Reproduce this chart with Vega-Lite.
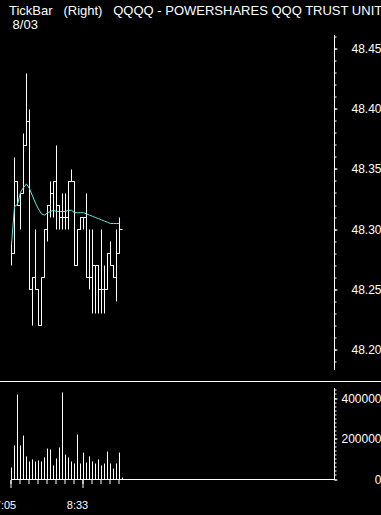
{
  "$schema": "https://vega.github.io/schema/vega-lite/v6.json",
  "background": "black",
  "autosize": "none",
  "padding": {"left": 0, "top": 35, "right": 381, "bottom": 480},
  "bounds": "flush",
  "spacing": 18,
  "data": {"name": "bars"},
  "datasets": {
    "bars": [
      {"k": 0, "high": 48.29, "low": 48.27, "close": 48.28, "ma": 48.2875, "volume": 59000},
      {"k": 1, "high": 48.36, "low": 48.28, "close": 48.34, "ma": 48.319, "volume": 168000},
      {"k": 2, "high": 48.34, "low": 48.32, "close": 48.32, "ma": 48.321, "volume": 420000},
      {"k": 3, "high": 48.33, "low": 48.30, "close": 48.33, "ma": 48.331, "volume": 168000},
      {"k": 4, "high": 48.38, "low": 48.33, "close": 48.37, "ma": 48.335, "volume": 217000},
      {"k": 5, "high": 48.43, "low": 48.37, "close": 48.39, "ma": 48.338, "volume": 114000},
      {"k": 6, "high": 48.40, "low": 48.25, "close": 48.25, "ma": 48.334, "volume": 89000},
      {"k": 7, "high": 48.26, "low": 48.22, "close": 48.26, "ma": 48.328, "volume": 99000},
      {"k": 8, "high": 48.30, "low": 48.25, "close": 48.25, "ma": 48.322, "volume": 89000},
      {"k": 9, "high": 48.25, "low": 48.22, "close": 48.22, "ma": 48.317, "volume": 94000},
      {"k": 10, "high": 48.26, "low": 48.22, "close": 48.26, "ma": 48.313, "volume": 89000},
      {"k": 11, "high": 48.30, "low": 48.26, "close": 48.30, "ma": 48.312, "volume": 109000},
      {"k": 12, "high": 48.32, "low": 48.29, "close": 48.32, "ma": 48.314, "volume": 153000},
      {"k": 13, "high": 48.34, "low": 48.31, "close": 48.33, "ma": 48.315, "volume": 148000},
      {"k": 14, "high": 48.34, "low": 48.31, "close": 48.34, "ma": 48.316, "volume": 69000},
      {"k": 15, "high": 48.37, "low": 48.30, "close": 48.32, "ma": 48.315, "volume": 104000},
      {"k": 16, "high": 48.32, "low": 48.30, "close": 48.31, "ma": 48.315, "volume": 158000},
      {"k": 17, "high": 48.33, "low": 48.30, "close": 48.31, "ma": 48.315, "volume": 430000},
      {"k": 18, "high": 48.33, "low": 48.30, "close": 48.31, "ma": 48.315, "volume": 123000},
      {"k": 19, "high": 48.34, "low": 48.30, "close": 48.34, "ma": 48.316, "volume": 109000},
      {"k": 20, "high": 48.35, "low": 48.34, "close": 48.34, "ma": 48.316, "volume": 89000},
      {"k": 21, "high": 48.34, "low": 48.27, "close": 48.27, "ma": 48.314, "volume": 79000},
      {"k": 22, "high": 48.30, "low": 48.27, "close": 48.30, "ma": 48.314, "volume": 222000},
      {"k": 23, "high": 48.31, "low": 48.30, "close": 48.31, "ma": 48.314, "volume": 79000},
      {"k": 24, "high": 48.31, "low": 48.30, "close": 48.31, "ma": 48.314, "volume": 133000},
      {"k": 25, "high": 48.33, "low": 48.26, "close": 48.26, "ma": 48.313, "volume": 84000},
      {"k": 26, "high": 48.30, "low": 48.25, "close": 48.26, "ma": 48.312, "volume": 114000},
      {"k": 27, "high": 48.30, "low": 48.23, "close": 48.27, "ma": 48.311, "volume": 89000},
      {"k": 28, "high": 48.27, "low": 48.23, "close": 48.27, "ma": 48.310, "volume": 79000},
      {"k": 29, "high": 48.27, "low": 48.23, "close": 48.25, "ma": 48.309, "volume": 99000},
      {"k": 30, "high": 48.30, "low": 48.23, "close": 48.25, "ma": 48.308, "volume": 69000},
      {"k": 31, "high": 48.27, "low": 48.23, "close": 48.25, "ma": 48.307, "volume": 79000},
      {"k": 32, "high": 48.28, "low": 48.25, "close": 48.28, "ma": 48.306, "volume": 138000},
      {"k": 33, "high": 48.29, "low": 48.27, "close": 48.27, "ma": 48.305, "volume": 79000},
      {"k": 34, "high": 48.27, "low": 48.26, "close": 48.26, "ma": 48.305, "volume": 54000},
      {"k": 35, "high": 48.30, "low": 48.24, "close": 48.28, "ma": 48.305, "volume": 79000},
      {"k": 36, "high": 48.31, "low": 48.28, "close": 48.30, "ma": 48.305, "volume": 133000},
      {"k": 37, "high": 48.30, "low": 48.30, "close": 48.30, "ma": null, "volume": 10000}
    ]
  },
  "config": {
    "view": {"stroke": null},
    "axis": {"grid": false, "domainColor": "white", "tickColor": "white", "labelColor": "white", "labelFont": "Liberation Sans", "labelFontSize": 12, "labelOverlap": false, "labelFlush": false, "translate": 0, "domainWidth": 1, "tickWidth": 1},
    "title": {"color": "white", "font": "Liberation Sans", "fontSize": 13, "fontWeight": "normal", "anchor": "start"}
  },
  "vconcat": [
    {
      "width": 334.5,
      "height": 335,
      "title": {"text": ["TickBar\u00a0\u00a0\u00a0(Right)\u00a0\u00a0\u00a0QQQQ - POWERSHARES QQQ TRUST UNIT", "\u200b\u00a08/03"], "frame": "group", "anchor": "start", "offset": 3, "lineHeight": 14.5, "dx": 9},
      "resolve": {"axis": {"y": "independent"}},
      "layer": [
        {
          "mark": {"type": "rule", "color": "white", "strokeWidth": 1},
          "encoding": {
            "x": {"field": "k", "type": "quantitative", "scale": {"domain": [-3.833333, 107.666667], "nice": false, "zero": false}, "axis": null},
            "y": {"field": "low", "type": "quantitative", "title": null, "scale": {"domain": [48.1829167, 48.4620833], "nice": false, "zero": false},
              "axis": {"orient": "right", "values": [48.2, 48.25, 48.3, 48.35, 48.4, 48.45], "format": ".2f", "tickSize": 3, "labelAlign": "right", "labelPadding": 44}},
            "y2": {"field": "high"}
          }
        },
        {
          "mark": {"type": "line", "interpolate": "step-after", "color": "white", "strokeWidth": 1},
          "encoding": {
            "x": {"field": "k", "type": "quantitative", "axis": null},
            "y": {"field": "close", "type": "quantitative", "title": null,
              "axis": {"orient": "right", "values": [48.19, 48.2, 48.21, 48.22, 48.23, 48.24, 48.25, 48.26, 48.27, 48.28, 48.29, 48.3, 48.31, 48.32, 48.33, 48.34, 48.35, 48.36, 48.37, 48.38, 48.39, 48.4, 48.41, 48.42, 48.43, 48.44, 48.45, 48.46], "tickSize": 2, "labels": false, "domain": false}}
          }
        },
        {
          "mark": {"type": "line", "color": "#5ee8e6", "strokeWidth": 1},
          "encoding": {
            "x": {"field": "k", "type": "quantitative", "axis": null},
            "y": {"field": "ma", "type": "quantitative", "axis": null}
          }
        }
      ]
    },
    {
      "width": 334.5,
      "height": 92,
      "resolve": {"axis": {"x": "independent", "y": "independent"}},
      "layer": [
        {
          "mark": {"type": "rule", "color": "white", "strokeWidth": 1},
          "encoding": {
            "x": {"field": "k", "type": "quantitative", "title": null, "scale": {"domain": [-3.833333, 107.666667], "nice": false, "zero": false},
              "axis": {"orient": "bottom", "values": [0, 24], "domain": false, "tickSize": 8,
                "labelExpr": "datum.value == 0 ? '7:05' : '8:33'",
                "labelFontSize": 11, "labelPadding": 12, "labelOffset": -6}},
            "y": {"field": "volume", "type": "quantitative", "title": null, "scale": {"domain": [-2469.1, 451852], "nice": false, "zero": false},
              "axis": {"orient": "right", "values": [0, 200000, 400000], "format": "d", "tickSize": 3, "labelAlign": "right", "labelPadding": 44}},
            "y2": {"datum": 0}
          }
        },
        {
          "data": {"values": [{}]},
          "mark": {"type": "rule", "color": "white", "strokeWidth": 1},
          "encoding": {
            "x": {"datum": -3.833333, "type": "quantitative", "axis": null},
            "x2": {"datum": 124},
            "y": {"datum": 483950.5, "type": "quantitative", "axis": null}
          }
        },
        {
          "data": {"values": [{}]},
          "mark": {"type": "rule", "color": "white", "strokeWidth": 1},
          "encoding": {
            "x": {"datum": -0.166667, "type": "quantitative", "title": null,
              "axis": {"orient": "bottom", "values": [0, 3, 6, 9, 12, 15, 18, 21, 24, 27, 30, 33, 36], "domain": false, "tickSize": 4, "labels": false}},
            "x2": {"datum": 107.666667},
            "y": {"datum": 0, "type": "quantitative", "title": null,
              "axis": {"orient": "right", "values": [0, 20000, 40000, 60000, 80000, 100000, 120000, 140000, 160000, 180000, 200000, 220000, 240000, 260000, 280000, 300000, 320000, 340000, 360000, 380000, 400000, 420000, 440000], "tickSize": 2, "labels": false, "domain": false}}
          }
        }
      ]
    }
  ]
}
